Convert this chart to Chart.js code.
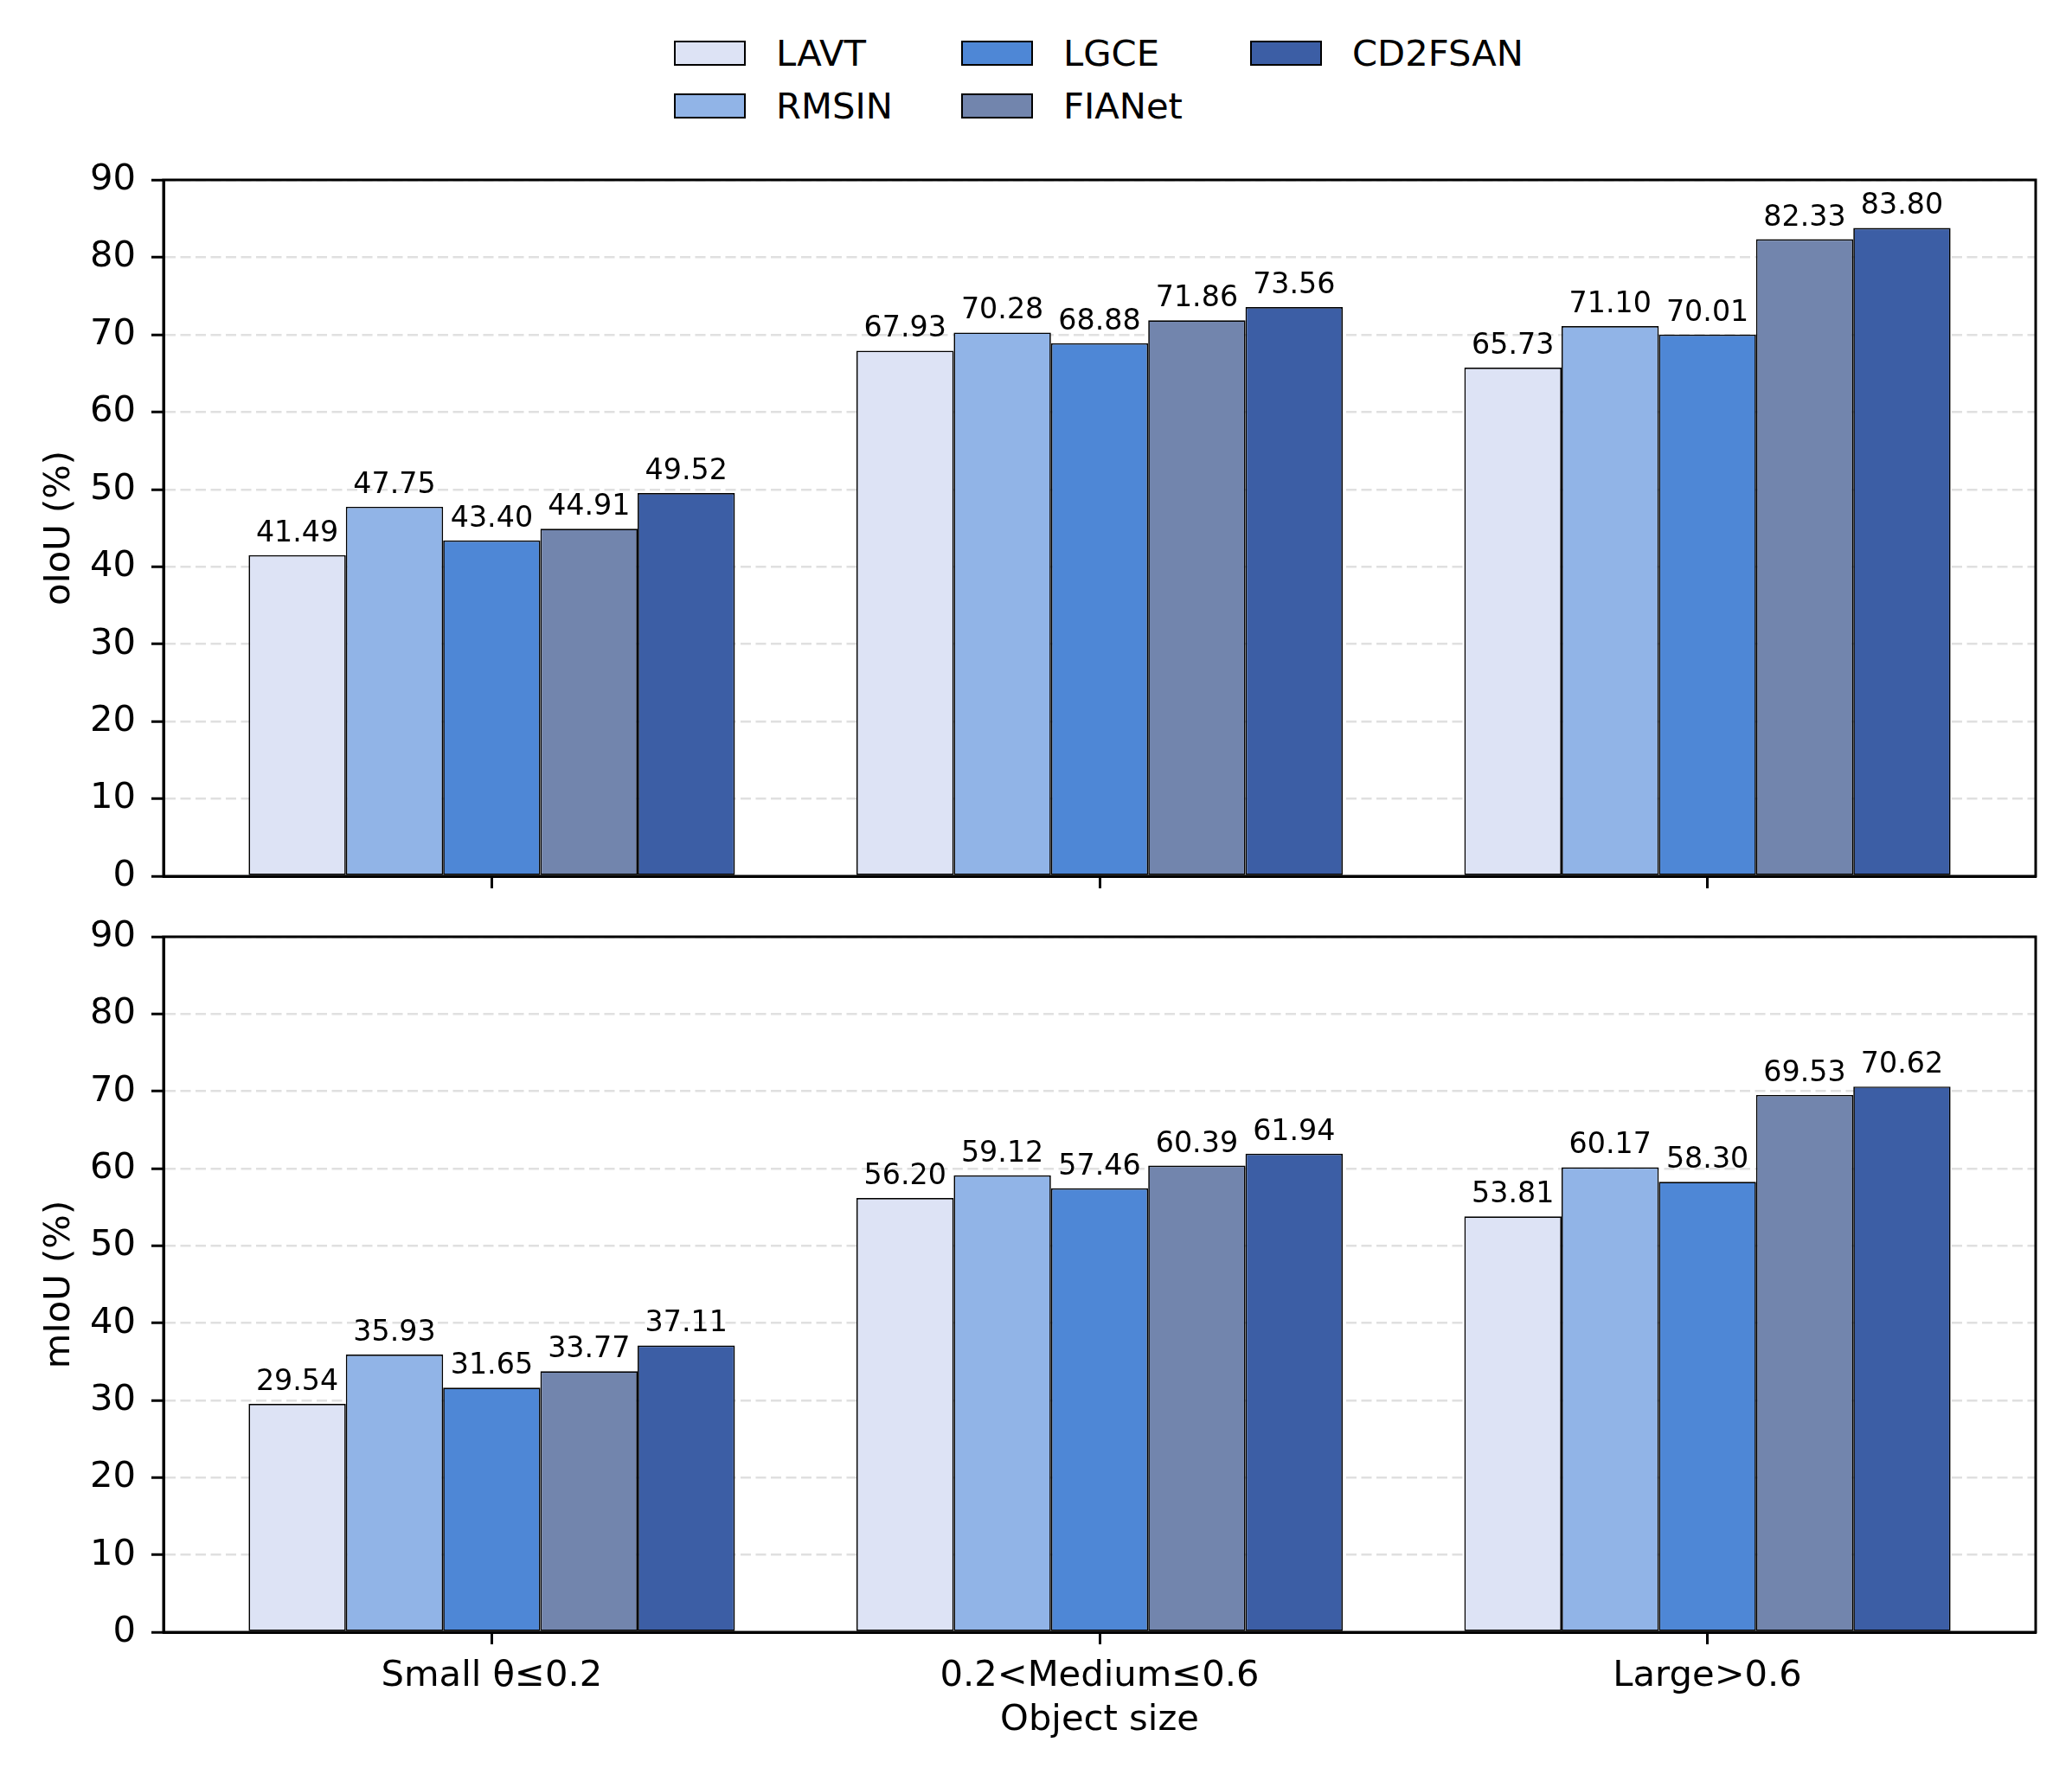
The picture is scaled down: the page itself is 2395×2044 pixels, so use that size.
<!DOCTYPE html>
<html>
<head>
<meta charset="utf-8">
<script src="https://cdn.jsdelivr.net/npm/chart.js@4.4.1/dist/chart.umd.min.js"></script>
<style>
  html, body { margin: 0; padding: 0; background: #fff; }
  #page { position: relative; width: 2395px; height: 2044px; overflow: hidden; font-family: "DejaVu Sans", sans-serif; }
  #top { position: absolute; left: 0; top: 0; }
  #bottom { position: absolute; left: 0; top: 1040px; }
  .leg-item { position: absolute; height: 50px; display: flex; align-items: center; font-size: 41.7px; color: #000; white-space: nowrap; }
  .leg-box { width: 79px; height: 25px; border: 2px solid #000; margin-right: 35px; }
</style>
</head>
<body>
<div id="page">
  <div id="legend"></div>
  <canvas id="top" width="2395" height="1080"></canvas>
  <canvas id="bottom" width="2395" height="1004"></canvas>
</div>
<script>
(function () {
  "use strict";

  // ── Data ───────────────────────────────────────────────────────
  var categories = ["Small θ≤0.2", "0.2<Medium≤0.6", "Large>0.6"];
  var methods = ["LAVT", "RMSIN", "LGCE", "FIANet", "CD2FSAN"];
  var colors = ["#dde3f5", "#91b4e7", "#4e87d6", "#7285ad", "#3c5ea5"];

  // oIoU (%) per method: Small, Medium, Large
  var oiouLAVT = [41.49, 67.93, 65.73];
  var oiouRMSIN = [47.75, 70.28, 71.10];
  var oiouLGCE = [43.40, 68.88, 70.01];
  var oiouFIANet = [44.91, 71.86, 82.33];
  var oiouCD2FSAN = [49.52, 73.56, 83.80];

  // mIoU (%) per method: Small, Medium, Large
  var miouLAVT = [29.54, 56.20, 53.81];
  var miouRMSIN = [35.93, 59.12, 60.17];
  var miouLGCE = [31.65, 57.46, 58.30];
  var miouFIANet = [33.77, 60.39, 69.53];
  var miouCD2FSAN = [37.11, 61.94, 70.62];

  var yMin = 0, yMax = 90, yStep = 10;

  Chart.defaults.font.family = "'DejaVu Sans', sans-serif";
  Chart.defaults.color = "#000";

  // ── Legend (matplotlib style, 3 columns, column-major) ─────────
  var legCols = [779, 1111, 1445];
  var legRows = [61, 122];
  var legend = document.getElementById("legend");
  methods.forEach(function (m, i) {
    var col = Math.floor(i / 2), row = i % 2;
    var item = document.createElement("div");
    item.className = "leg-item";
    item.style.left = legCols[col] + "px";
    item.style.top = (legRows[row] - 25) + "px";
    var box = document.createElement("div");
    box.className = "leg-box";
    box.style.background = colors[i];
    item.appendChild(box);
    item.appendChild(document.createTextNode(m));
    legend.appendChild(item);
  });

  // ── Plugins ────────────────────────────────────────────────────
  var barValues = {
    id: "barValues",
    afterDatasetsDraw: function (chart) {
      var ctx = chart.ctx;
      ctx.save();
      ctx.font = "33.3px 'DejaVu Sans'";
      ctx.fillStyle = "#000";
      ctx.textAlign = "center";
      ctx.textBaseline = "alphabetic";
      chart.data.datasets.forEach(function (ds, i) {
        chart.getDatasetMeta(i).data.forEach(function (bar, j) {
          ctx.fillText(ds.data[j].y.toFixed(2), bar.x, bar.y - 16);
        });
      });
      ctx.restore();
    }
  };

  var frame = {
    id: "frame",
    afterDraw: function (chart) {
      var a = chart.chartArea, ctx = chart.ctx;
      ctx.save();
      ctx.strokeStyle = "#000";
      ctx.lineWidth = 3;
      ctx.strokeRect(a.left, a.top, a.right - a.left, a.bottom - a.top);
      ctx.restore();
    }
  };

  function buildDatasets(series) {
    return methods.map(function (m, i) {
      return {
        label: m,
        data: series[i].map(function (v, j) { return { x: j, y: v }; }),
        backgroundColor: colors[i],
        borderColor: "#000",
        borderWidth: 1.7,
        borderSkipped: false,
        categoryPercentage: 0.8,
        barPercentage: 1.0
      };
    });
  }

  function makeChart(id, series, yTitle, showX, padTop, xHeight) {
    return new Chart(document.getElementById(id), {
      type: "bar",
      data: { datasets: buildDatasets(series) },
      plugins: [barValues, frame],
      options: {
        responsive: false,
        animation: false,
        devicePixelRatio: 1,
        layout: { padding: { left: 0, right: 42, top: padTop, bottom: 0 } },
        plugins: { legend: { display: false }, tooltip: { enabled: false } },
        scales: {
          x: {
            type: "linear",
            min: -0.54,
            max: 2.54,
            offset: false,
            afterBuildTicks: function (s) {
              s.ticks = categories.map(function (c, i) { return { value: i }; });
            },
            afterFit: function (s) { s.height = xHeight; },
            ticks: {
              display: showX,
              autoSkip: false,
              maxRotation: 0,
              padding: 12,
              color: "#000",
              font: { size: 41.7 },
              callback: function (v) { return categories[v]; }
            },
            grid: {
              offset: false,
              drawOnChartArea: false,
              drawTicks: true,
              tickLength: 14,
              tickWidth: 3,
              tickColor: "#000"
            },
            border: { display: true, color: "#000", width: 3 },
            title: {
              display: showX,
              text: "Object size",
              color: "#000",
              font: { size: 41.7 },
              padding: { top: 0, bottom: 30 }
            }
          },
          y: {
            min: yMin,
            max: yMax,
            afterFit: function (s) { s.width = 189; },
            ticks: { stepSize: yStep, padding: 18, color: "#000", font: { size: 41.7 } },
            grid: {
              color: "#e0e0e0",
              lineWidth: 2.5,
              tickLength: 14,
              tickWidth: 3,
              tickColor: "#000",
              tickBorderDash: []
            },
            border: { display: true, color: "#000", width: 3, dash: [12, 5.5] },
            title: {
              display: true,
              text: yTitle,
              color: "#000",
              font: { size: 41.7 },
              padding: { top: 44, bottom: 0 }
            }
          }
        }
      }
    });
  }

  makeChart("top",
    [oiouLAVT, oiouRMSIN, oiouLGCE, oiouFIANet, oiouCD2FSAN],
    "oIoU (%)", false, 208, 67);
  makeChart("bottom",
    [miouLAVT, miouRMSIN, miouLGCE, miouFIANet, miouCD2FSAN],
    "mIoU (%)", true, 42, 157);
})();
</script>
</body>
</html>
